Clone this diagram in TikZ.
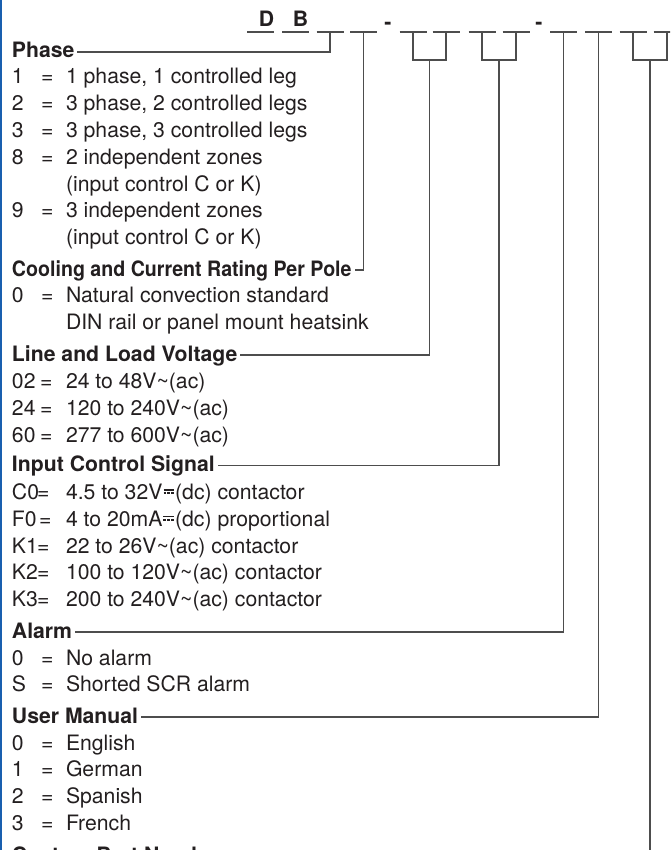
\documentclass[tikz,border=0pt]{standalone}
\usepackage{fontspec}
\setmainfont{TeX Gyre Heros}
\usepackage{graphicx}
\definecolor{txt}{RGB}{35,31,32}
\definecolor{ln}{RGB}{77,77,77}
\definecolor{edgeblue}{RGB}{25,95,175}
\newcommand\dcsym{\makebox[0.6em][c]{\rlap{\rule[0.42em]{0.5em}{0.07em}}\rule[0.27em]{0.13em}{0.07em}\hspace{0.055em}\rule[0.27em]{0.13em}{0.07em}\hspace{0.055em}\rule[0.27em]{0.13em}{0.07em}}}
\newcommand\acs{\textasciitilde}
\newcommand\itemrow[5]{%
  \node[keyst] (#1k) at (12,#2) {#3};
  \node[keyst] (#1e) at (#4,#2) {=};
  \node[keyst] (#1v) at (66,#2) {#5};}
\begin{document}
\begin{tikzpicture}[x=1pt,y=-1pt,
  every node/.style={inner sep=0pt, outer sep=0pt, text=txt, font=\fontsize{21.2pt}{26.8pt}\selectfont},
  head/.style={anchor=base west, font=\fontsize{21.2pt}{26.8pt}\selectfont\bfseries},
  keyst/.style={anchor=base west},
  code/.style={anchor=base, font=\fontsize{21.2pt}{26.8pt}\selectfont\bfseries},
  conn/.style={draw=ln, line width=1.3pt},
  uline/.style={draw=ln, line width=1.2pt},
]
\useasboundingbox (0,0) rectangle (670,850);
\clip (0,0) rectangle (670,850);
\fill[white] (0,0) rectangle (670,850);
\draw[edgeblue, line width=1.6pt] (0.8,0) -- (0.8,850);

% code letters and blanks
\node[code] (lD) at (266.5,27) {D};
\node[code] (lB) at (300.5,27) {B};
\node[code] (dash1) at (388,30) {-};
\node[code] (dash2) at (539,30) {-};
\foreach \n/\x in {1/260.5,2/295.5,3/330,4/363.5,5/413,6/446,7/482,8/516,9/563.5,10/598.5,11/633,12/667}{
  \coordinate (b\n) at (\x,32);
  \draw[uline] ([xshift=-13.5pt]b\n) -- ([xshift=13.5pt]b\n);
}

% Phase
\node[head] (hPhase) at (12,58) {Phase};
\itemrow{p1}{84}{1}{41}{1 phase, 1 controlled leg}
\itemrow{p2}{110.8}{2}{41}{3 phase, 2 controlled legs}
\itemrow{p3}{137.6}{3}{41}{3 phase, 3 controlled legs}
\itemrow{p8}{164.4}{8}{41}{2 independent zones}
\node[keyst] (p8b) at (66,191.2) {(input control C or K)};
\itemrow{p9}{218}{9}{41}{3 independent zones}
\node[keyst] (p9b) at (66,244.8) {(input control C or K)};

% Cooling
\node[head] (hCool) at (12,276) {\scalebox{0.925}[1]{Cooling and Current Rating Per Pole}};
\itemrow{c0}{302.5}{0}{41}{Natural convection standard}
\node[keyst] (c0b) at (66,329.3) {DIN rail or panel mount heatsink};

% Line and load
\node[head] (hLine) at (12,361) {Line and Load Voltage};
\itemrow{v02}{388.5}{02}{40}{24 to 48V\acs(ac)}
\itemrow{v24}{415.3}{24}{40}{120 to 240V\acs(ac)}
\itemrow{v60}{442.1}{60}{40}{277 to 600V\acs(ac)}

% Input control
\node[head] (hInput) at (12,471.5) {Input Control Signal};
\itemrow{iC0}{499.5}{C0}{37}{4.5 to 32V\dcsym(dc) contactor}
\itemrow{iF0}{526.3}{F0}{39}{4 to 20mA\dcsym(dc) proportional}
\itemrow{iK1}{553.1}{K1}{37}{22 to 26V\acs(ac) contactor}
\itemrow{iK2}{579.9}{K2}{37}{100 to 120V\acs(ac) contactor}
\itemrow{iK3}{606.7}{K3}{37}{200 to 240V\acs(ac) contactor}

% Alarm
\node[head] (hAlarm) at (12,638) {Alarm};
\itemrow{a0}{665}{0}{41}{No alarm}
\itemrow{aS}{691.8}{S}{41}{Shorted SCR alarm}

% User manual
\node[head] (hUser) at (12,723) {User Manual};
\itemrow{u0}{750}{0}{41}{English}
\itemrow{u1}{776.8}{1}{41}{German}
\itemrow{u2}{803.6}{2}{41}{Spanish}
\itemrow{u3}{830.4}{3}{41}{French}

% Custom part number
\node[head] (hCustom) at (12,862) {Custom Part Number};

% connector start points
\foreach \h in {Phase,Cool,Line,Input,Alarm,User,Custom}{
  \coordinate (s\h) at ([xshift=3pt,yshift=6pt]h\h.base east);
}

% connectors
\draw[conn] (b3) |- (sPhase);
\draw[conn] (b4) |- (sCool);
\coordinate (m56) at (429.5,60);
\draw[conn] (b5) |- (m56) -| (b6);
\draw[conn] (m56) |- (sLine);
\coordinate (m78) at (499,60);
\draw[conn] (b7) |- (m78) -| (b8);
\draw[conn] (m78) |- (sInput);
\draw[conn] (b9) |- (sAlarm);
\draw[conn] (b10) |- (sUser);
\coordinate (m1112) at (650,60);
\draw[conn] (b11) |- (m1112) -| (b12);
\draw[conn] (m1112) |- (sCustom);
\end{tikzpicture}
\end{document}
